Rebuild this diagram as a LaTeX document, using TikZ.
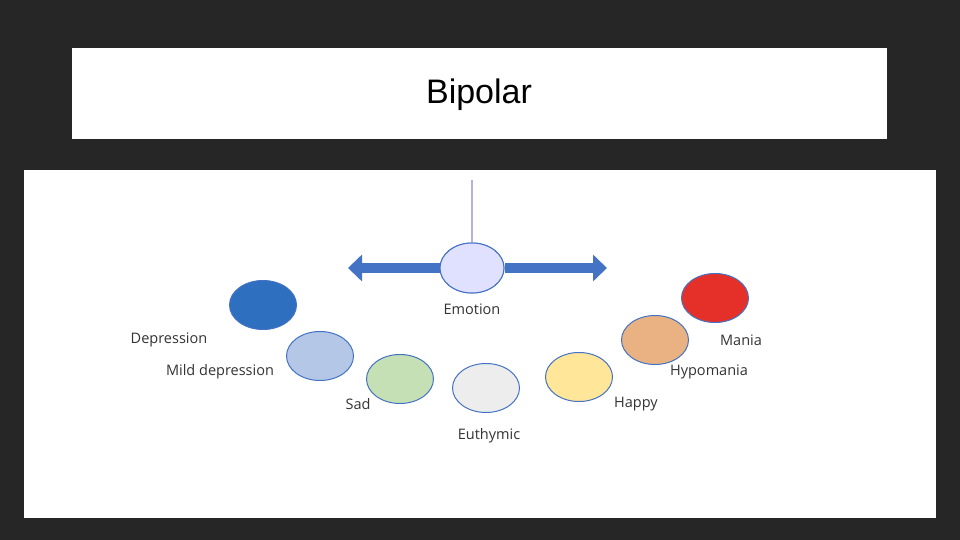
\documentclass[tikz,border=0pt]{standalone}
\usepackage{fontspec}
\setmainfont{Open Sans}
\newfontfamily\titlefont{Liberation Sans}
\usetikzlibrary{arrows.meta,shapes.geometric}
\definecolor{acc}{RGB}{68,114,196}
\begin{document}
\begin{tikzpicture}[x=1pt,y=-1pt,
  dot/.style={ellipse,minimum width=67pt,minimum height=49pt,draw=acc,line width=1pt},
  lab/.style={font=\fontsize{14.5}{16}\selectfont,text=black!80}]
\useasboundingbox (0,0) rectangle (960,540);
\fill[black!85] (0,0) rectangle (960,540);
\fill[white] (72,48) rectangle (887,139);
\node[font=\titlefont\fontsize{34}{38}\selectfont,text=black] (title) at (479,95) {Bipolar};
\fill[white] (24,170) rectangle (936,518);
\coordinate (top) at (472,180);
\node[dot,fill=blue!12,minimum width=64pt,minimum height=50pt] (emo) at (472,268) {};
\draw[gray!50!blue!40,line width=1.5pt] (top) -- (emo.north);
\coordinate (al) at (348,268);
\coordinate (ar) at (607,268);
\draw[-{Triangle[length=14pt,width=26pt]},line width=10pt,color=acc] (emo.east) -- (ar);
\draw[-{Triangle[length=14pt,width=26pt]},line width=10pt,color=acc] (emo.west) -- (al);
\node[dot,fill=blue!12,minimum width=64pt,minimum height=50pt] at (472,268) {};
\node[lab] (emol) at (472,309) {Emotion};
\node[dot,fill={rgb,255:red,46;green,111;blue,192}] (dep) at (263,305) {};
\node[lab] (depl) at (169,340) {Depression};
\node[dot,fill={rgb,255:red,180;green,199;blue,231}] (mild) at (320,356) {};
\node[lab] (mildl) at (220,372) {Mild depression};
\node[dot,fill={rgb,255:red,197;green,224;blue,180}] (sad) at (400,379) {};
\node[lab] (sadl) at (358,404) {Sad};
\node[dot,fill={rgb,255:red,237;green,237;blue,237}] (eu) at (486,388) {};
\node[lab] (eul) at (489,436) {Euthymic};
\node[dot,fill={rgb,255:red,255;green,230;blue,153}] (hap) at (579,377) {};
\node[lab] (hapl) at (636,404) {Happy};
\node[dot,fill={rgb,255:red,234;green,177;blue,131}] (hypo) at (655,340) {};
\node[lab] (hypol) at (709,372) {Hypomania};
\node[dot,fill={rgb,255:red,229;green,48;blue,42}] (man) at (715,298) {};
\node[lab] (manl) at (741,340) {Mania};
\end{tikzpicture}
\end{document}
